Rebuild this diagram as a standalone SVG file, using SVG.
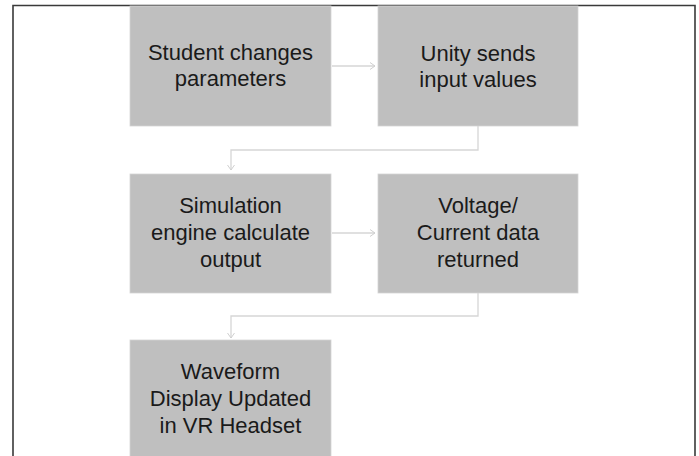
<svg xmlns="http://www.w3.org/2000/svg" width="699" height="456" viewBox="0 0 699 456">
<defs>
<marker id="arr" markerWidth="10" markerHeight="10" refX="7" refY="5" orient="auto" markerUnits="userSpaceOnUse">
<path d="M2,1.5 L7,5 L2,8.5" fill="none" stroke="#d0d0d0" stroke-width="1"/>
</marker>
</defs>
<style>
.box{fill:#bfbfbf;stroke:#d4d4d4;stroke-width:0.8}
.t{font-family:"Liberation Sans","Open Sans",sans-serif;font-size:22px;fill:#1a1a1a;text-anchor:middle}
.c{fill:none;stroke:#d6d6d6;stroke-width:1.3}
</style>
<rect x="0" y="0" width="699" height="456" fill="#ffffff"/>
<path d="M13,456 V5.5 H695 V456" fill="none" stroke="#3a3a3a" stroke-width="1.6"/>
<g id="connectors">
<path class="c" d="M332,66 H375" marker-end="url(#arr)"/>
<path class="c" d="M478,126 V150 H231 V170" marker-end="url(#arr)"/>
<path class="c" d="M332,233 H375" marker-end="url(#arr)"/>
<path class="c" d="M478,293 V316 H231 V338" marker-end="url(#arr)"/>
</g>
<g id="n1">
<rect class="box" x="130" y="6" width="201" height="120"/>
<text class="t" x="230.5" y="60">Student changes</text>
<text class="t" x="230.5" y="86">parameters</text>
</g>
<g id="n2">
<rect class="box" x="378" y="6" width="200" height="120"/>
<text class="t" x="478" y="61">Unity sends</text>
<text class="t" x="478" y="87">input values</text>
</g>
<g id="n3">
<rect class="box" x="130" y="174" width="201" height="119"/>
<text class="t" x="230.5" y="213">Simulation</text>
<text class="t" x="230.5" y="240">engine calculate</text>
<text class="t" x="230.5" y="267">output</text>
</g>
<g id="n4">
<rect class="box" x="378" y="174" width="200" height="119"/>
<text class="t" x="478" y="213">Voltage/</text>
<text class="t" x="478" y="240">Current data</text>
<text class="t" x="478" y="267">returned</text>
</g>
<g id="n5">
<rect class="box" x="130" y="340" width="201" height="130"/>
<text class="t" x="230.5" y="379">Waveform</text>
<text class="t" x="230.5" y="406">Display Updated</text>
<text class="t" x="230.5" y="433">in VR Headset</text>
</g>
</svg>
